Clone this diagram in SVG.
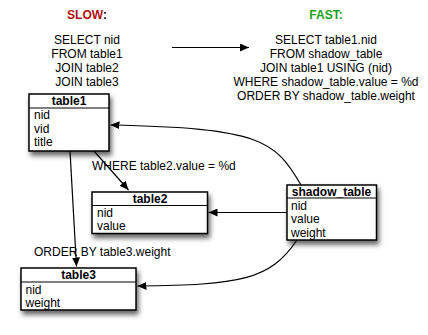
<svg xmlns="http://www.w3.org/2000/svg" width="428" height="335" viewBox="0 0 428 335">
<defs>
<filter id="sh" x="-20%" y="-20%" width="150%" height="170%">
<feDropShadow dx="2" dy="4" stdDeviation="2.5" flood-color="#000" flood-opacity="0.6"/>
</filter>
<marker id="ah" markerUnits="userSpaceOnUse" markerWidth="10" markerHeight="8" refX="9" refY="4" orient="auto">
<path d="M0,0 L9,4 L0,8 Z" fill="#000"/>
</marker>
</defs>
<style>
text{font-family:"Liberation Sans",Arial,sans-serif;font-size:12px;fill:#000}
.c{text-anchor:middle}
.b{font-weight:bold}
.box{fill:#fff;stroke:#000;stroke-width:1.5}
.ln{stroke:#000;stroke-width:1.2}
.con{fill:none;stroke:#000;stroke-width:1.2;marker-end:url(#ah)}
</style>
<rect width="428" height="335" fill="#fff"/>

<g id="slow">
<text class="c b" x="87" y="19"><tspan style="fill:#b01010">SLOW</tspan>:</text>
<text class="c" x="87" y="43.5">SELECT nid</text>
<text class="c" x="87" y="57.5">FROM table1</text>
<text class="c" x="87" y="71.5">JOIN table2</text>
<text class="c" x="87" y="85.5">JOIN table3</text>
</g>
<g id="fast">
<text class="c b" x="326" y="19" style="fill:#20a020">FAST:</text>
<text class="c" x="326" y="44">SELECT table1.nid</text>
<text class="c" x="326" y="58">FROM shadow_table</text>
<text class="c" x="326" y="72">JOIN table1 USING (nid)</text>
<text class="c" x="326" y="86">WHERE shadow_table.value = %d</text>
<text class="c" x="326" y="100">ORDER BY shadow_table.weight</text>
</g>

<g id="connectors">
<path class="con" d="M172,47.5 L249,47.5"/>
<path class="con" d="M94,151 L128.5,190"/>
<path class="con" d="M70,151 L76.5,266.5"/>
<path class="con" d="M287,212.5 L208.5,212.5"/>
<path class="con" d="M301,185 C275,140 260,128 110.5,125"/>
<path class="con" d="M297,240 C270,280 240,285 137.5,286"/>
<text x="92" y="170">WHERE table2.value = %d</text>
<text x="34" y="256">ORDER BY table3.weight</text>
</g>

<g id="table1">
<rect class="box" x="29" y="94" width="80" height="57" filter="url(#sh)"/>
<line class="ln" x1="29" y1="108" x2="109" y2="108"/>
<text class="c b" x="69" y="105">table1</text>
<text x="34" y="119">nid</text>
<text x="34" y="132.5">vid</text>
<text x="34" y="146">title</text>
</g>

<g id="table2">
<rect class="box" x="92" y="192" width="115.5" height="41.5" filter="url(#sh)"/>
<line class="ln" x1="92" y1="205.5" x2="207.5" y2="205.5"/>
<text class="c b" x="150" y="203">table2</text>
<text x="97" y="216.5">nid</text>
<text x="97" y="230">value</text>
</g>

<g id="table3">
<rect class="box" x="21" y="268" width="115" height="42" filter="url(#sh)"/>
<line class="ln" x1="21" y1="282" x2="136" y2="282"/>
<text class="c b" x="78.5" y="279">table3</text>
<text x="25.5" y="293.5">nid</text>
<text x="25.5" y="307">weight</text>
</g>

<g id="shadow_table">
<rect class="box" x="287" y="185" width="89.5" height="55" filter="url(#sh)"/>
<line class="ln" x1="287" y1="198" x2="376.5" y2="198"/>
<text class="c b" x="331.5" y="196">shadow_table</text>
<text x="291" y="209.5">nid</text>
<text x="291" y="223">value</text>
<text x="291" y="236.5">weight</text>
</g>
</svg>
